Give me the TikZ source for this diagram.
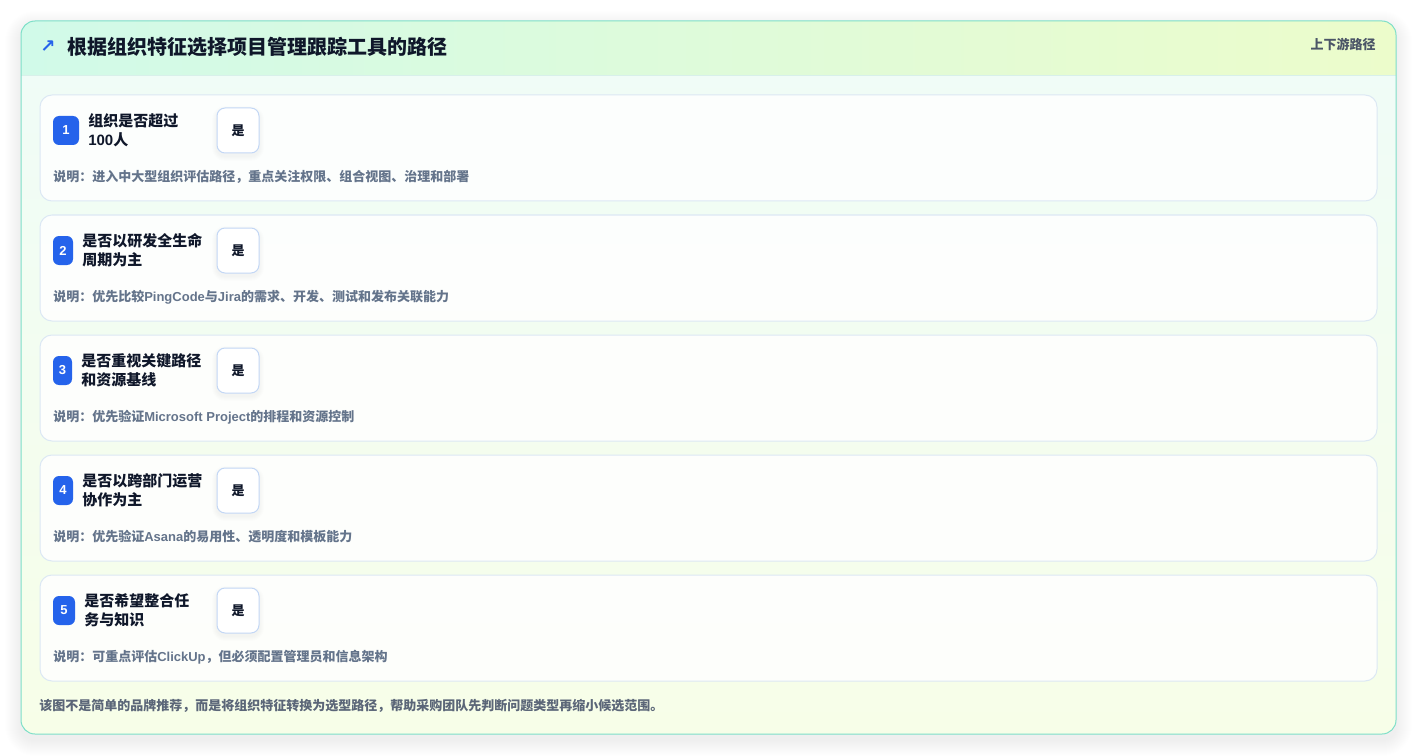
\documentclass[tikz,border=0pt]{standalone}
\usepackage{fontspec}
\setmainfont{Noto Sans CJK SC}
\newfontfamily\lat{Liberation Sans}
\newfontfamily\sym{DejaVu Sans}
\definecolor{bodytop}{HTML}{EFFCF8}
\definecolor{bodybot}{HTML}{F7FEE8}
\definecolor{hdl}{HTML}{D1FAE9}
\definecolor{hdr}{HTML}{ECFCCB}
\definecolor{hdline}{HTML}{D8F0EA}
\definecolor{cardborder}{HTML}{7DDFC8}
\definecolor{rowborder}{HTML}{DCE8F4}
\definecolor{yesborder}{HTML}{C3D7F5}
\definecolor{badgeblue}{HTML}{2563EB}
\definecolor{ink}{HTML}{0F172A}
\definecolor{descgray}{HTML}{64748B}
\definecolor{footgray}{HTML}{5B6678}
\definecolor{labgray}{HTML}{4B5567}
\tikzset{
  rowbox/.style={draw=rowborder, line width=0.75pt, fill=white, fill opacity=0.85, rounded corners=9pt},
  badge/.style={fill=badgeblue, rounded corners=4.5pt, minimum height=21.75pt, inner sep=0pt,
    text=white, font=\lat\bfseries\fontsize{9.75pt}{11pt}\selectfont},
  question/.style={anchor=west, align=left, inner sep=0pt, text=ink,
    font=\bfseries\fontsize{11.25pt}{14.25pt}\selectfont},
  yesbox/.style={draw=yesborder, line width=0.75pt, fill=white, rounded corners=6pt,
    minimum width=31.5pt, minimum height=33.75pt, inner sep=0pt, text=ink,
    font=\bfseries\fontsize{9.75pt}{11pt}\selectfont},
  desc/.style={anchor=west, inner sep=0pt, text=descgray, font=\bfseries\fontsize{9.75pt}{11pt}\selectfont},
}
\newcommand\qrow[7]{%
  \path[rowbox] (40,#2) rectangle (1377,#2+106);
  \node[badge, minimum width={#3*0.75pt}] (badge#1) at ({53+#3/2},#2+35.5) {#1};
  \node[question] (q#1) at (#4,#2+35.5) {#5\\#6};
  \foreach \k in {1,...,5}{\fill[black, opacity=0.008, rounded corners=6pt+\k*0.75pt] (217-\k,#2+13-\k+3) rectangle (259+\k,#2+58+\k+3);}
  \node[yesbox] (yes#1) at (238,#2+35.5) {是};
  \node[desc] (d#1) at (53,#2+82) {#7};
}
\begin{document}
\begin{tikzpicture}[x=0.75pt,y=-0.75pt]
\useasboundingbox (0,0) rectangle (1417,756);
\fill[white] (0,0) rectangle (1417,756);
% card shadow
\foreach \k in {1,...,16}{\fill[black, opacity=0.005, rounded corners=10.5pt+\k*0.75pt] (21-\k,21-\k+6) rectangle (1396+\k,734+\k+6);}
% card body
\shade[top color=bodytop, bottom color=bodybot, rounded corners=10.5pt] (21,21) rectangle (1396,734);
\begin{scope}
  \clip[rounded corners=10.5pt] (21,21) rectangle (1396,734);
  \shade[left color=hdl, right color=hdr] (21,21) rectangle (1396,75);
\end{scope}
\draw[hdline, line width=0.75pt] (21,75.5) -- (1396,75.5);
\draw[cardborder, line width=0.75pt, rounded corners=10.5pt] (21,21) rectangle (1396,734);
% header
\node[anchor=west, inner sep=0pt, text=badgeblue, font=\sym\bfseries\fontsize{13.5pt}{15pt}\selectfont] (arrow) at (40,47) {↗};
\node[anchor=west, inner sep=0pt, text=ink, font=\bfseries\fontsize{15pt}{17pt}\selectfont] (title) at (67,47) {根据组织特征选择项目管理跟踪工具的路径};
\node[anchor=east, inner sep=0pt, text=labgray, font=\bfseries\fontsize{9.75pt}{11pt}\selectfont] (tag) at (1376,44) {上下游路径};
% rows
\qrow{1}{95}{26}{88}{组织是否超过}{{\lat 100}人}{说明：进入中大型组织评估路径，重点关注权限、组合视图、治理和部署}
\qrow{2}{215}{20}{82}{是否以研发全生命}{周期为主}{说明：优先比较{\lat PingCode}与{\lat Jira}的需求、开发、测试和发布关联能力}
\qrow{3}{335}{19}{81}{是否重视关键路径}{和资源基线}{说明：优先验证{\lat Microsoft Project}的排程和资源控制}
\qrow{4}{455}{20}{82}{是否以跨部门运营}{协作为主}{说明：优先验证{\lat Asana}的易用性、透明度和模板能力}
\qrow{5}{575}{22}{84}{是否希望整合任}{务与知识}{说明：可重点评估{\lat ClickUp}，但必须配置管理员和信息架构}
% footer
\node[anchor=west, inner sep=0pt, text=footgray, font=\bfseries\fontsize{9.75pt}{11pt}\selectfont] (foot) at (39,706) {该图不是简单的品牌推荐，而是将组织特征转换为选型路径，帮助采购团队先判断问题类型再缩小候选范围。};
\end{tikzpicture}
\end{document}
